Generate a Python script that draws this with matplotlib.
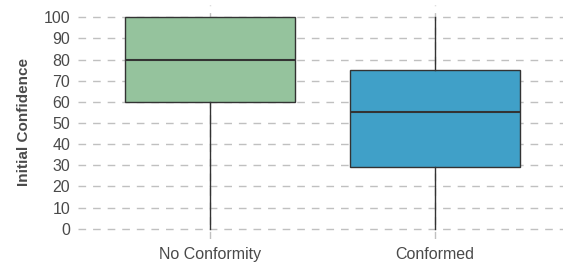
import matplotlib
matplotlib.use("Agg")
import matplotlib.pyplot as plt

plt.rcParams['font.family'] = ['Liberation Sans', 'DejaVu Sans']

groups = ["No Conformity", "Conformed"]
whislo = [0, 0]
q1 = [60, 29]
med = [80, 55]
q3 = [100, 75]
whishi = [100, 100]
colors = ["#95c39d", "#40a0c8"]
yticks = list(range(0, 101, 10))

stats = [dict(label=g, whislo=lo, q1=a, med=m, q3=b, whishi=hi)
         for g, lo, a, m, b, hi in zip(groups, whislo, q1, med, q3, whishi)]

fig = plt.figure(figsize=(5.63, 2.62), dpi=100)
ax = fig.add_axes([78 / 563, 1 - 239 / 262, 1 - 78 / 563, 234 / 262])

bp = ax.bxp(stats, positions=[0, 1], widths=0.755, patch_artist=True,
            showfliers=False, showcaps=False,
            boxprops=dict(edgecolor="#333333", linewidth=1.0),
            medianprops=dict(color="#333333", linewidth=1.5),
            whiskerprops=dict(color="#333333", linewidth=1.0))
for patch, c in zip(bp['boxes'], colors):
    patch.set_facecolor(c)
for b in bp['boxes'] + bp['medians'] + bp['whiskers']:
    b.set_zorder(3)

ax.set_xlim(-0.587, 1.569)
ax.set_ylim(-4.87, 105.8)
ax.set_yticks(yticks)
ax.set_xticks([0, 1], groups)
ax.grid(True, color="#c0c0c0", linestyle=(0, (5.5, 5)), linewidth=1.0, zorder=0)
ax.set_axisbelow(True)
for s in ax.spines.values():
    s.set_visible(False)
ax.tick_params(length=0, labelsize=11.5, labelcolor="#4a4a4a", pad=5.5)
ax.set_ylabel("Initial Confidence", fontsize=11, fontweight="bold", color="#4a4a4a", labelpad=9)

fig.savefig("out.png", dpi=100)
